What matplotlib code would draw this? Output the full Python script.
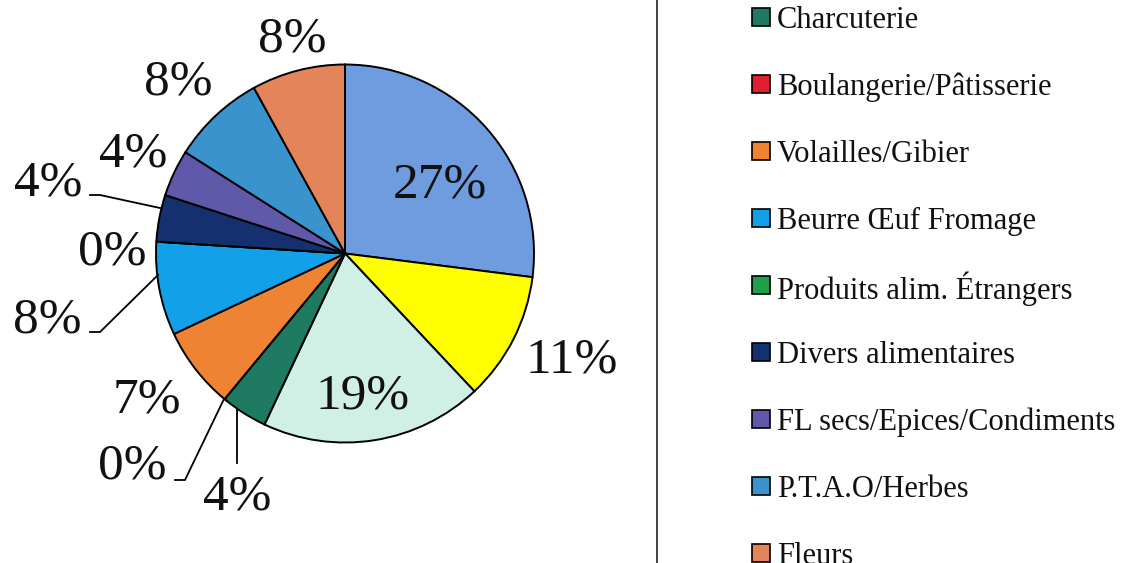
import numpy as np
import matplotlib
matplotlib.use("Agg")
import matplotlib.pyplot as plt
from matplotlib.patches import Rectangle
from matplotlib.lines import Line2D

# ---- data (clockwise from 12 o'clock) ----
categories = ["", "", "", "Charcuterie", "Boulangerie/Pâtisserie", "Volailles/Gibier",
              "Beurre Œuf Fromage", "Produits alim. Étrangers", "Divers alimentaires",
              "FL secs/Epices/Condiments", "P.T.A.O/Herbes", "Fleurs"]
values = [27, 11, 19, 4, 0, 7, 8, 0, 4, 4, 8, 8]
colors = ["#6F9BDF", "#FFFF00", "#D0F0E6", "#1F7A62", "#E0202E", "#EE8433",
          "#12A0E8", "#1F9E4B", "#14306E", "#6059A9", "#3A93CC", "#E4845A"]

# ---- layout (pixels from top-left of the 1121x563 picture) ----
W, H = 1121, 563
cx, cy, R = 345, 253.5, 189
label_px = [(440, 185), (572, 360), (363, 396), (237, 497), (132, 466), (147, 400),
            (47, 320), (112, 252), (48, 183), (133, 154), (178, 82), (292, 39)]
leaders = {
    3: [(237, 409), (237, 463)],
    4: [(224, 399), (185, 480), (175, 480)],
    6: [(158, 275), (100, 332), (90, 332)],
    8: [(160, 208), (100, 195), (90, 195)],
}
serif = ["Liberation Serif", "DejaVu Serif"]

fig = plt.figure(figsize=(W / 100, H / 100), dpi=100)
ax = fig.add_axes([(cx - R) / W, (H - cy - R) / H, 2 * R / W, 2 * R / H])

wedges, _ = ax.pie(values, colors=colors, startangle=90, counterclock=False, radius=1,
                   wedgeprops=dict(edgecolor="black", linewidth=1.4))
ax.set_xlim(-1, 1)
ax.set_ylim(-1, 1)
ax.axis("off")
for w in wedges:
    w.set_clip_on(False)

total = float(sum(values))
def to_data(px, py):
    return (px - cx) / R, (cy - py) / R

for i, v in enumerate(values):
    x, y = to_data(*label_px[i])
    ax.text(x, y, f"{100 * v / total:.0f}%", ha="center", va="center",
            fontsize=37, family=serif, color="#111111", clip_on=False)

for i, pts in leaders.items():
    xs, ys = zip(*[to_data(*p) for p in pts])
    ax.add_line(Line2D(xs, ys, color="black", lw=1.3, clip_on=False))

# vertical separator
fig.add_artist(Line2D([657 / W, 657 / W], [0, 1], color="#333333", lw=1.3))

# legend (only the visible entries)
leg_idx = [i for i, c in enumerate(categories) if c]
y0, dy = 17, 67
for k, i in enumerate(leg_idx):
    yc = y0 + k * dy
    fig.add_artist(Rectangle((752 / W, (H - yc - 9) / H), 18 / W, 18 / H,
                             facecolor=colors[i], edgecolor="black", lw=1.2))
    fig.text(777 / W, (H - yc) / H, categories[i], ha="left", va="center_baseline",
             fontsize=22, family=serif, color="#111111")

fig.savefig("out.png", dpi=100)
